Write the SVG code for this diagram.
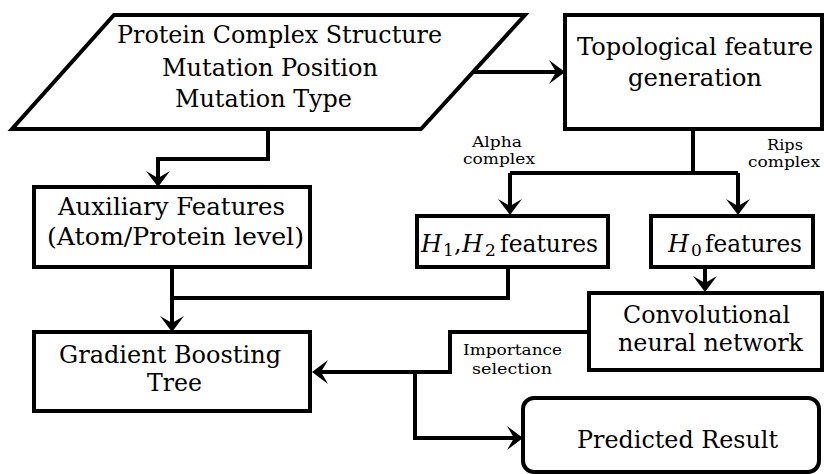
<svg xmlns="http://www.w3.org/2000/svg" width="824" height="474" viewBox="0 0 824 474">
<style>
.n{fill:#fff;stroke:#000;stroke-width:4}
.c{fill:none;stroke:#000;stroke-width:4}
.t{font-family:"DejaVu Serif","Liberation Serif",serif;font-size:24px;fill:#000;text-anchor:middle}
.s{font-family:"DejaVu Serif","Liberation Serif",serif;font-size:15px;fill:#000;text-anchor:middle}
.m{font-family:"DejaVu Serif","Liberation Serif",serif;font-size:24px;fill:#000}
.i{font-style:italic}
.sub{font-size:17px}
</style>
<defs>
<marker id="arr" markerUnits="userSpaceOnUse" viewBox="-18 -13 19 26" refX="-9" refY="0" markerWidth="19" markerHeight="26" orient="auto">
<path d="M0,0 L-16,-12 L-9,0 L-16,12 Z" fill="#000"/>
</marker>
</defs>
<rect width="824" height="474" fill="#fff"/>
<g id="connectors">
<path class="c" d="M473,72 H556" marker-end="url(#arr)"/>
<path class="c" d="M268,129 V159 H158 V178" marker-end="url(#arr)"/>
<path class="c" d="M693,129 V173"/>
<path class="c" d="M510,173 H738"/>
<path class="c" d="M510,173 V206" marker-end="url(#arr)"/>
<path class="c" d="M738,173 V206" marker-end="url(#arr)"/>
<path class="c" d="M172,267 V323" marker-end="url(#arr)"/>
<path class="c" d="M508,267 V298 H172"/>
<path class="c" d="M705,267 V283" marker-end="url(#arr)"/>
<path class="c" d="M589,332 H450 V372 H321" marker-end="url(#arr)"/>
<path class="c" d="M415,372 V438 H514" marker-end="url(#arr)"/>
<text class="s" x="497" y="147" textLength="50" lengthAdjust="spacingAndGlyphs">Alpha</text>
<text class="s" x="499" y="164" textLength="72" lengthAdjust="spacingAndGlyphs">complex</text>
<text class="s" x="785" y="150" textLength="36" lengthAdjust="spacingAndGlyphs">Rips</text>
<text class="s" x="784" y="167" textLength="72" lengthAdjust="spacingAndGlyphs">complex</text>
<text class="s" x="512.5" y="355" textLength="99" lengthAdjust="spacingAndGlyphs">Importance</text>
<text class="s" x="512" y="374" textLength="80" lengthAdjust="spacingAndGlyphs">selection</text>
</g>
<g id="input">
<polygon class="n" points="114,15 525,15 421,129 12,129"/>
<text class="t" x="279.5" y="43" textLength="325" lengthAdjust="spacingAndGlyphs">Protein Complex Structure</text>
<text class="t" x="270" y="76" textLength="216" lengthAdjust="spacingAndGlyphs">Mutation Position</text>
<text class="t" x="263.5" y="107" textLength="177" lengthAdjust="spacingAndGlyphs">Mutation Type</text>
</g>
<g id="topo">
<rect class="n" x="565" y="15" width="257" height="114"/>
<text class="t" x="695" y="55" textLength="236" lengthAdjust="spacingAndGlyphs">Topological feature</text>
<text class="t" x="695" y="86" textLength="134" lengthAdjust="spacingAndGlyphs">generation</text>
</g>
<g id="aux">
<rect class="n" x="34" y="187" width="276" height="80"/>
<text class="t" x="171.5" y="215" textLength="227" lengthAdjust="spacingAndGlyphs">Auxiliary Features</text>
<text class="t" x="175.5" y="245" textLength="257" lengthAdjust="spacingAndGlyphs">(Atom/Protein level)</text>
</g>
<g id="h12">
<rect class="n" x="417" y="216" width="191" height="51"/>
<text class="m" y="252"><tspan class="i" x="421">H</tspan><tspan class="sub" x="443" dy="4">1</tspan><tspan x="454" dy="-4">,</tspan><tspan class="i" x="462">H</tspan><tspan class="sub" x="485" dy="4">2</tspan><tspan x="500" dy="-4" textLength="98" lengthAdjust="spacingAndGlyphs">features</tspan></text>
</g>
<g id="h0">
<rect class="n" x="651" y="216" width="162" height="51"/>
<text class="m" y="252"><tspan class="i" x="668">H</tspan><tspan class="sub" x="691" dy="4">0</tspan><tspan x="705" dy="-4" textLength="97" lengthAdjust="spacingAndGlyphs">features</tspan></text>
</g>
<g id="cnn">
<rect class="n" x="589" y="293" width="233" height="77"/>
<text class="t" x="706.5" y="323" textLength="167" lengthAdjust="spacingAndGlyphs">Convolutional</text>
<text class="t" x="710.5" y="351" textLength="185" lengthAdjust="spacingAndGlyphs">neural network</text>
</g>
<g id="gbt">
<rect class="n" x="34" y="332" width="276" height="79"/>
<text class="t" x="170" y="363" textLength="222" lengthAdjust="spacingAndGlyphs">Gradient Boosting</text>
<text class="t" x="174.5" y="391" textLength="55" lengthAdjust="spacingAndGlyphs">Tree</text>
</g>
<g id="result">
<rect class="n" x="523" y="398" width="296" height="74" rx="11"/>
<text class="t" x="677.5" y="448" textLength="201" lengthAdjust="spacingAndGlyphs">Predicted Result</text>
</g>
</svg>
